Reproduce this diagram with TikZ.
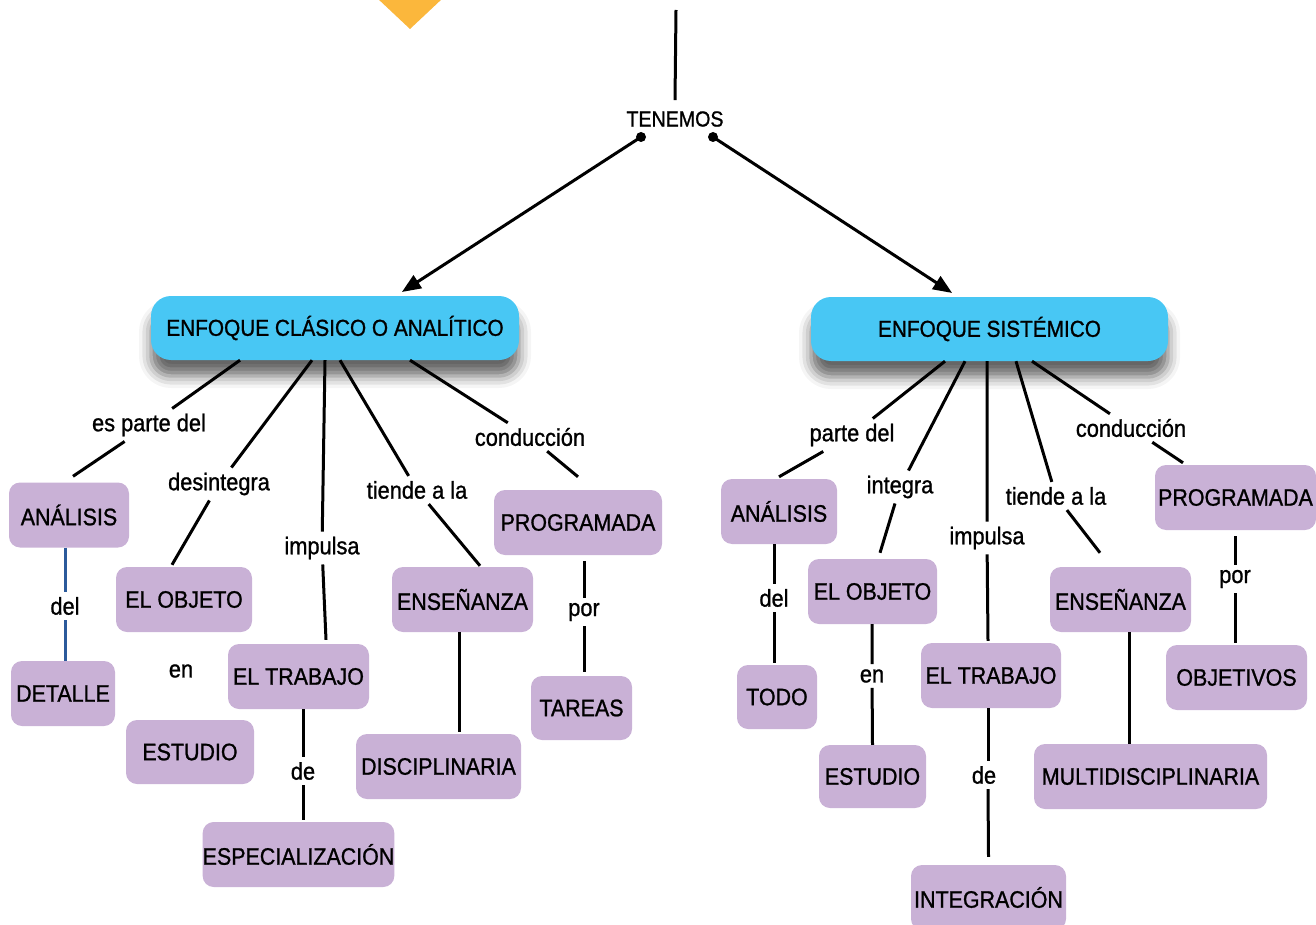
\documentclass[tikz,border=0pt]{standalone}
\usepackage{fontspec}
\setmainfont{Liberation Sans}[FakeStretch=0.9,FakeBold=1]
\usetikzlibrary{arrows.meta,shadows.blur}
\definecolor{capsule}{HTML}{48C7F4}
\definecolor{conceptfill}{HTML}{C9B1D6}
\definecolor{marker}{HTML}{FBB73C}
\definecolor{delblue}{HTML}{2B5A9B}
\begin{document}
\begin{tikzpicture}[x=1pt,y=-1pt,
  txt/.style={font=\fontsize{23.8}{28}\selectfont, text=black},
  head/.style={txt, font=\fontsize{23.1}{27}\selectfont, fill=capsule, rounded corners=20pt, inner sep=0pt,
    minimum height=64pt,
    blur shadow={shadow xshift=0pt, shadow yshift=-16pt, shadow blur radius=12pt, shadow opacity=60}},
  cbox/.style={txt, fill=conceptfill, rounded corners=11pt, inner sep=0pt, minimum height=65pt},
  lbl/.style={txt, font=\fontsize{24.2}{28}\selectfont, inner sep=5pt},
  conn/.style={line width=3pt, draw=black},
  blueconn/.style={line width=3pt, draw=delblue},
  arr/.style={conn, -{Triangle[length=19pt,width=15pt]}},
]
\useasboundingbox (0,0) rectangle (1316,925);

% decorative marker at the top edge
\fill[marker] (377,-2) -- (410,29) -- (443,-2) -- cycle;

% root link
\node[lbl, font=\fontsize{21.8}{26}\selectfont] (ten) at (675,119) {TENEMOS};
\coordinate (top) at (676,10);
\coordinate (d1) at (641,137);
\coordinate (d2) at (713,137);
\draw[conn] (top) -- ([yshift=6pt]ten.north);

% main headings
\node[head, minimum width=368pt] (c1) at (335,328) {ENFOQUE CLÁSICO O ANALÍTICO};
\node[head, minimum width=357pt] (c2) at (989.5,329) {ENFOQUE SISTÉMICO};

\fill (d1) circle (5pt);
\fill (d2) circle (5pt);
\draw[arr, shorten >=7pt] (d1) -- ([xshift=61pt]c1.north);
\draw[arr, shorten >=7pt] (d2) -- ([xshift=-31.5pt]c2.north);

% ---------- classic / analytic branch ----------
\node[cbox, minimum width=120pt] (ana1) at (69,515) {ANÁLISIS};
\node[cbox, minimum width=104pt] (det1) at (63,693.5) {DETALLE};
\node[cbox, minimum width=136pt] (obj1) at (184,599.5) {EL OBJETO};
\node[cbox, minimum width=128pt, minimum height=64pt] (est1) at (190,752) {ESTUDIO};
\node[cbox, minimum width=141pt] (trab1) at (298.5,676.5) {EL TRABAJO};
\node[cbox, minimum width=191pt] (esp1) at (298.5,854.5) {ESPECIALIZACIÓN};
\node[cbox, minimum width=141pt] (ens1) at (462.5,599.5) {ENSEÑANZA};
\node[cbox, minimum width=165pt] (disc1) at (438.5,766.5) {DISCIPLINARIA};
\node[cbox, minimum width=168pt] (prog1) at (578,522.5) {PROGRAMADA};
\node[cbox, minimum width=101pt, minimum height=64pt] (tar1) at (581.5,708) {TAREAS};

\node[lbl] (l1a) at (149,425) {es parte del};
\node[lbl] (l1b) at (219,484) {desintegra};
\node[lbl] (l1c) at (322,548) {impulsa};
\node[lbl] (l1d) at (417,490) {tiende a la};
\node[lbl] (l1e) at (530,437) {conducción};
\node[lbl] (l1f) at (65,606) {del};
\node[lbl] (l1g) at (181,671) {en};
\node[lbl] (l1h) at (303,771) {de};
\node[lbl] (l1i) at (584,612) {por};

\draw[conn] ([xshift=-95pt]c1.south) -- (l1a) -- ([xshift=4pt,yshift=6pt]ana1.north);
\draw[conn] ([xshift=-23pt]c1.south) -- (l1b) -- ([xshift=-12pt,yshift=2pt]obj1.north);
\draw[conn] ([xshift=-10pt]c1.south) -- (l1c) -- ([xshift=27.5pt,yshift=4pt]trab1.north);
\draw[conn] ([xshift=5pt]c1.south) -- (l1d) -- ([xshift=17.5pt,yshift=1pt]ens1.north);
\draw[conn] ([xshift=75pt]c1.south) -- (l1e) -- ([yshift=13pt]prog1.north);
\draw[blueconn] ([xshift=-4pt]ana1.south) -- (l1f) -- ([xshift=2pt]det1.north);
\draw[conn] ([xshift=4.5pt]trab1.south) -- (l1h) -- ([xshift=4.5pt,yshift=2pt]esp1.north);
\draw[conn] ([xshift=-3.5pt]ens1.south) -- ([xshift=20.5pt,yshift=2pt]disc1.north);
\draw[conn] ([xshift=6pt,yshift=-6pt]prog1.south) -- (l1i) -- ([xshift=2.5pt,yshift=4pt]tar1.north);

% ---------- systemic branch ----------
\node[cbox, minimum width=116pt] (ana2) at (779,511.5) {ANÁLISIS};
\node[cbox, minimum width=80pt, minimum height=64pt] (todo) at (777,697) {TODO};
\node[cbox, minimum width=129pt] (obj2) at (872.5,591.5) {EL OBJETO};
\node[cbox, minimum width=107pt, minimum height=63pt] (est2) at (872.5,776.5) {ESTUDIO};
\node[cbox, minimum width=140pt] (trab2) at (991,675.5) {EL TRABAJO};
\node[cbox, minimum width=155pt] (int1) at (988.5,897.5) {INTEGRACIÓN};
\node[cbox, minimum width=141pt] (ens2) at (1120.5,599.5) {ENSEÑANZA};
\node[cbox, minimum width=233pt] (mult) at (1150.5,776.5) {MULTIDISCIPLINARIA};
\node[cbox, minimum width=161pt] (prog2) at (1235.5,497.5) {PROGRAMADA};
\node[cbox, minimum width=141pt] (objv) at (1236.5,677.5) {OBJETIVOS};

\node[lbl] (l2a) at (852,435) {parte del};
\node[lbl] (l2b) at (900,487) {integra};
\node[lbl] (l2c) at (987,538) {impulsa};
\node[lbl] (l2d) at (1056,496) {tiende a la};
\node[lbl] (l2e) at (1131,428) {conducción};
\node[lbl] (l2f) at (774,598) {del};
\node[lbl] (l2g) at (872,676) {en};
\node[lbl] (l2h) at (984,775) {de};
\node[lbl] (l2i) at (1235,579) {por};

\draw[conn] ([xshift=-44.5pt]c2.south) -- (l2a) -- ([yshift=2pt]ana2.north);
\draw[conn] ([xshift=-24.5pt]c2.south) -- (l2b) -- ([xshift=7.5pt,yshift=6pt]obj2.north);
\draw[conn] ([xshift=-2.5pt]c2.south) -- (l2c) -- ([xshift=-3pt,yshift=2pt]trab2.north);
\draw[conn] ([xshift=26.5pt]c2.south) -- (l2d) -- ([xshift=-20.5pt,yshift=14pt]ens2.north);
\draw[conn] ([xshift=42.5pt]c2.south) -- (l2e) -- ([xshift=-52.5pt,yshift=2pt]prog2.north);
\draw[conn] ([xshift=-5pt]ana2.south) -- (l2f) -- ([xshift=-3pt,yshift=2pt]todo.north);
\draw[conn] ([xshift=-0.5pt]obj2.south) -- (l2g) -- (est2.north);
\draw[conn] ([xshift=-3pt]trab2.south) -- ([xshift=4pt]l2h.north);
\draw[conn] ([xshift=4pt]l2h.south) -- ([yshift=8pt]int1.north);
\draw[conn] ([xshift=8.5pt]ens2.south) -- ([xshift=-21.5pt]mult.north);
\draw[conn] ([xshift=-0.5pt,yshift=-6pt]prog2.south) -- (l2i) -- ([xshift=-1.5pt,yshift=2pt]objv.north);
\end{tikzpicture}
\end{document}
